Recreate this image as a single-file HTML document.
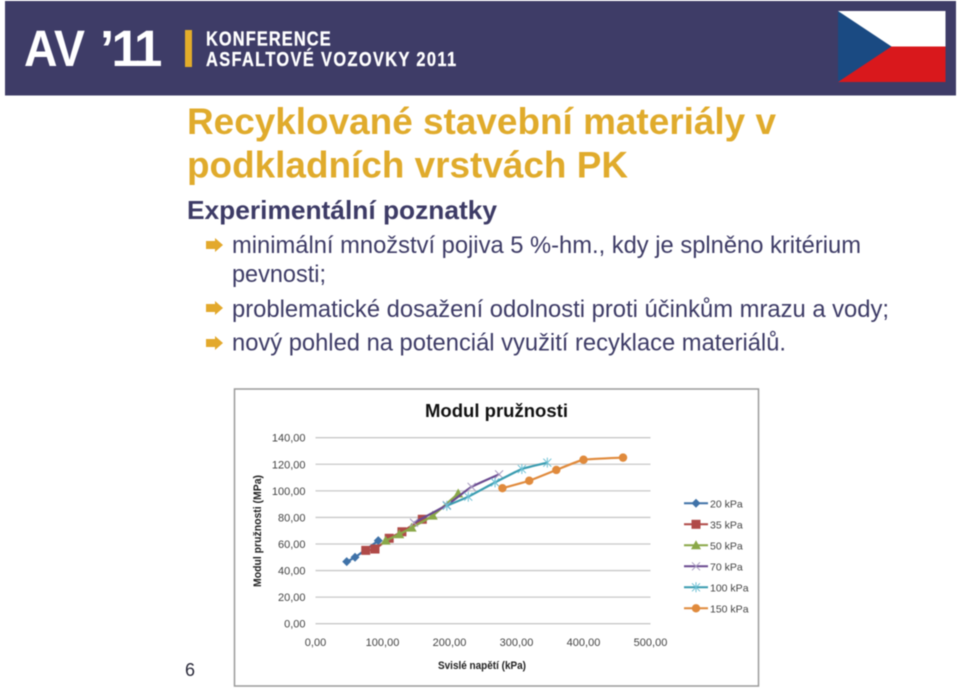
<!DOCTYPE html>
<html lang="cs">
<head>
<meta charset="utf-8">
<title>Recyklované stavební materiály</title>
<style>
html,body{margin:0;padding:0;background:#fff;width:960px;height:688px;overflow:hidden}
svg{display:block;font-family:"Liberation Sans",sans-serif}
.body{font-size:24px;fill:#3d3b66}
.tick{font-size:11px;fill:#444}
.legend-text{font-size:10.5px;fill:#444}
.soft{filter:blur(.4px)}
</style>
</head>
<body>
<svg id="page" width="960" height="688" viewBox="0 0 960 688">
  <g class="soft">
    <rect x="5" y="1" width="951" height="94.500" fill="#3e3c67"/>
    <g font-size="51" font-weight="700" fill="#fff">
      <text x="24" y="66" textLength="61" lengthAdjust="spacingAndGlyphs">AV</text>
      <text x="100" y="66">’</text>
      <text x="111.500 134" y="66">11</text>
    </g>
    <rect x="185" y="30" width="7" height="37" fill="#e3ac2a"/>
    <text transform="translate(206 45.500) scale(.82 1)" font-size="20" font-weight="700" fill="#fff" stroke="#fff" stroke-width=".3" textLength="152" lengthAdjust="spacing">KONFERENCE</text>
    <text transform="translate(206 66) scale(.82 1)" font-size="20" font-weight="700" fill="#fff" stroke="#fff" stroke-width=".3" textLength="305" lengthAdjust="spacing">ASFALTOVÉ VOZOVKY 2011</text>
    <g>
      <rect x="838" y="11" width="107.500" height="35.500" fill="#fff"/>
      <rect x="838" y="46.500" width="107.500" height="35.500" fill="#d9181c"/>
      <polygon points="838,11 891.500,46.500 838,82" fill="#1a4a82"/>
    </g>
  </g>

  <g class="soft">
    <text x="187" y="134" font-size="37" font-weight="700" fill="#e0ab2c" textLength="589" lengthAdjust="spacingAndGlyphs">Recyklované stavební materiály v</text>
    <text x="187" y="177.500" font-size="37" font-weight="700" fill="#e0ab2c" textLength="441" lengthAdjust="spacingAndGlyphs">podkladních vrstvách PK</text>
    <text x="187" y="219" font-size="26" font-weight="700" fill="#3d3b66" textLength="310" lengthAdjust="spacingAndGlyphs">Experimentální poznatky</text>

    <polygon points="206,241 215,241 215,238 223,245 215,252 215,249 206,249" fill="#e3a92c"/>
    <text class="body" x="232" y="253" textLength="629" lengthAdjust="spacingAndGlyphs">minimální množství pojiva 5 %-hm., kdy je splněno kritérium</text>
    <text class="body" x="232" y="282" textLength="94" lengthAdjust="spacingAndGlyphs">pevnosti;</text>
    <polygon points="206,304 215,304 215,301 223,308 215,315 215,312 206,312" fill="#e3a92c"/>
    <text class="body" x="232" y="317" textLength="657" lengthAdjust="spacingAndGlyphs">problematické dosažení odolnosti proti účinkům mrazu a vody;</text>
    <polygon points="206,339 215,339 215,336 223,343 215,350 215,347 206,347" fill="#e3a92c"/>
    <text class="body" x="232" y="350.500" textLength="554" lengthAdjust="spacingAndGlyphs">nový pohled na potenciál využití recyklace materiálů.</text>
    <text x="185" y="676" font-size="18" fill="#2a2a3a">6</text>
  </g>

  <g id="chart" class="soft">
    <rect x="234.500" y="389" width="524" height="297" fill="#fff" stroke="#9a9a9a" stroke-width="1.500"/>
    <text x="425" y="417" font-size="18" font-weight="700" fill="#111" textLength="143" lengthAdjust="spacingAndGlyphs">Modul pružnosti</text>
    <text x="438" y="669" font-size="11" font-weight="700" fill="#222" textLength="88" lengthAdjust="spacingAndGlyphs">Svislé napětí (kPa)</text>
    <text transform="translate(261 587) rotate(-90)" font-size="11" font-weight="700" fill="#222" textLength="112" lengthAdjust="spacingAndGlyphs">Modul pružnosti (MPa)</text>
    <g id="grid"></g>
    <g id="ticks"></g>
    <g id="series"></g>
    <g id="legend"></g>
  </g>
</svg>

<script>
const xTicks = [0, 100, 200, 300, 400, 500];
const yTicks = [0, 20, 40, 60, 80, 100, 120, 140];
const xTickLabels = ['0,00', '100,00', '200,00', '300,00', '400,00', '500,00'];
const yTickLabels = ['0,00', '20,00', '40,00', '60,00', '80,00', '100,00', '120,00', '140,00'];
const seriesNames = ['20 kPa', '35 kPa', '50 kPa', '70 kPa', '100 kPa', '150 kPa'];
const x20 = [46.6, 59, 93.7];
const y20 = [46.7, 50, 62.5];
const x35 = [75, 88.8, 110, 129, 159.4];
const y35 = [55.2, 56.2, 64.3, 69.2, 78.6];
const x50 = [104.7, 125, 143.5, 175, 213];
const y50 = [62.5, 67.3, 72.3, 81.3, 98];
const x70 = [147, 196, 233, 274];
const y70 = [76, 89.3, 103, 112.4];
const x100 = [196, 228, 268, 308, 346];
const y100 = [88.8, 95.6, 106.4, 116.4, 121.2];
const x150 = [279, 319, 359.4, 400, 459];
const y150 = [102, 107.6, 115.7, 123.4, 125];

const NS = 'http://www.w3.org/2000/svg';
const colors = ['#3f72a8', '#b04a48', '#8aa848', '#6a4a90', '#3a9cb0', '#e08a3c'];
const markerKinds = ['diamond', 'square', 'triangle', 'x', 'star', 'circle'];
const xData = [x20, x35, x50, x70, x100, x150];
const yData = [y20, y35, y50, y70, y100, y150];

function sx(v) { return 315.5 + v * 0.67; }
function sy(v) { return 623.7 - v * (186 / 140); }

function make(tag, attrs, parent) {
  const el = document.createElementNS(NS, tag);
  for (const k in attrs) el.setAttribute(k, attrs[k]);
  parent.appendChild(el);
  return el;
}

function smoothPath(pts) {
  let d = 'M' + pts[0][0] + ' ' + pts[0][1];
  for (let i = 0; i < pts.length - 1; i++) {
    const p0 = pts[Math.max(i - 1, 0)];
    const p1 = pts[i];
    const p2 = pts[i + 1];
    const p3 = pts[Math.min(i + 2, pts.length - 1)];
    const c1x = p1[0] + (p2[0] - p0[0]) / 14;
    const c1y = p1[1] + (p2[1] - p0[1]) / 14;
    const c2x = p2[0] - (p3[0] - p1[0]) / 14;
    const c2y = p2[1] - (p3[1] - p1[1]) / 14;
    d += 'C' + c1x + ' ' + c1y + ' ' + c2x + ' ' + c2y + ' ' + p2[0] + ' ' + p2[1];
  }
  return d;
}

function marker(kind, cx, cy, color, parent) {
  let el;
  if (kind === 'diamond') {
    el = make('polygon', { points: [cx, cy - 4.5, cx + 4.5, cy, cx, cy + 4.5, cx - 4.5, cy].join(' '), fill: color }, parent);
  } else if (kind === 'square') {
    el = make('rect', { x: cx - 4.5, y: cy - 4.5, width: 9, height: 9, fill: color }, parent);
  } else if (kind === 'triangle') {
    el = make('polygon', { points: [cx, cy - 5, cx + 5, cy + 4, cx - 5, cy + 4].join(' '), fill: color }, parent);
  } else if (kind === 'circle') {
    el = make('circle', { cx: cx, cy: cy, r: 4.2, fill: color }, parent);
  } else {
    const r = 4;
    let d = 'M' + (cx - r) + ' ' + (cy - r) + 'L' + (cx + r) + ' ' + (cy + r) + 'M' + (cx - r) + ' ' + (cy + r) + 'L' + (cx + r) + ' ' + (cy - r);
    if (kind === 'star') d += 'M' + cx + ' ' + (cy - r - 1) + 'L' + cx + ' ' + (cy + r + 1);
    el = make('path', { d: d, fill: 'none', stroke: kind === 'x' ? '#a79bc0' : '#6cc0d4', 'stroke-width': 1 }, parent);
  }
  return el;
}

const grid = document.getElementById('grid');
const ticks = document.getElementById('ticks');
const seriesGroup = document.getElementById('series');
const legend = document.getElementById('legend');

yTicks.forEach(function (t, i) {
  const line = make('line', { x1: sx(0), x2: sx(500), y1: sy(t), y2: sy(t), stroke: '#c8c8c8', 'stroke-width': 1.3 }, grid);
  
  
  const label = make('text', { x: 305.5, y: sy(t) + 4, 'text-anchor': 'end', class: 'tick' }, ticks);
  
  
  label.textContent = yTickLabels[i];
});

xTicks.forEach(function (t, i) {
  const label = make('text', { x: sx(t), y: 646, 'text-anchor': 'middle', class: 'tick' }, ticks);
  
  
  label.textContent = xTickLabels[i];
});

seriesNames.forEach(function (name, i) {
  const g = make('g', {}, seriesGroup);
  
  
  const pts = xData[i].map(function (v, j) { return [sx(v), sy(yData[i][j])]; });
  const line = make('path', { d: smoothPath(pts), fill: 'none', stroke: colors[i], 'stroke-width': 2.2 }, g);
  
  
  xData[i].forEach(function (v, j) {
    const m = marker(markerKinds[i], sx(v), sy(yData[i][j]), colors[i], g);
    
    
  });

  const ly = 503.3 + i * 21;
  const entry = make('g', {}, legend);
  
  
  const swatch = make('line', { x1: 684, x2: 708, y1: ly, y2: ly, stroke: colors[i], 'stroke-width': 2 }, entry);
  
  
  const lm = marker(markerKinds[i], 696, ly, colors[i], entry);
  
  
  const lt = make('text', { x: 710, y: ly + 4, class: 'legend-text' }, entry);
  
  
  lt.textContent = name;
});
</script>
</body>
</html>
